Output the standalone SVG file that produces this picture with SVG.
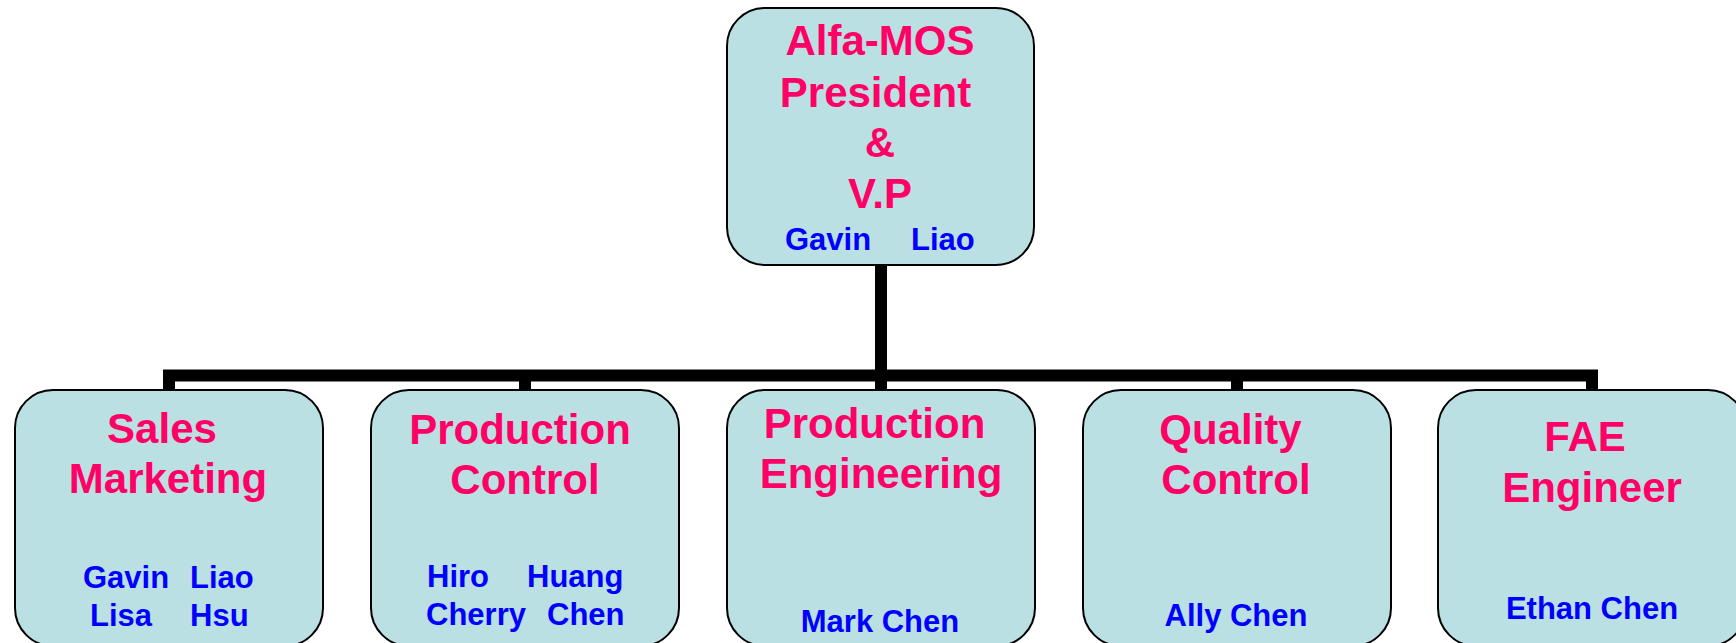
<svg xmlns="http://www.w3.org/2000/svg" width="1736" height="643" viewBox="0 0 1736 643">
<style>
.box{fill:#BBE0E3;stroke:#000;stroke-width:2}
.t{font-family:"Liberation Sans",Arial,sans-serif;font-weight:bold;font-size:42px;fill:#FF0066;text-anchor:middle}
.n{font-family:"Liberation Sans",Arial,sans-serif;font-weight:bold;font-size:31px;fill:#0000FF}
.c{text-anchor:middle}
.conn{fill:none;stroke:#000;stroke-width:12;stroke-linejoin:miter}
</style>
<rect width="1736" height="643" fill="#fff"/>
<g id="connectors">
<path class="conn" d="M169,390 V375.5 H1592 V390"/>
<path class="conn" d="M525,375.5 V390"/>
<path class="conn" d="M881,264 V390"/>
<path class="conn" d="M1237,375.5 V390"/>
</g>
<g id="president">
<rect class="box" x="727" y="8" width="307" height="257" rx="38"/>
<text class="t" x="880" y="55">Alfa-MOS</text>
<text class="t" x="875.5" y="107">President</text>
<text class="t" x="880" y="157">&amp;</text>
<text class="t" x="880" y="208">V.P</text>
<text class="n" y="250"><tspan x="785">Gavin</tspan><tspan x="911">Liao</tspan></text>
</g>
<g id="sales">
<rect class="box" x="15" y="390" width="308" height="256" rx="38"/>
<text class="t" x="162" y="443">Sales</text>
<text class="t" x="168" y="493">Marketing</text>
<text class="n" y="588"><tspan x="83">Gavin</tspan><tspan x="190">Liao</tspan></text>
<text class="n" y="626"><tspan x="90">Lisa</tspan><tspan x="190">Hsu</tspan></text>
</g>
<g id="production-control">
<rect class="box" x="371" y="390" width="308" height="256" rx="38"/>
<text class="t" x="520" y="444">Production</text>
<text class="t" x="525" y="494">Control</text>
<text class="n" y="587"><tspan x="427">Hiro</tspan><tspan x="527">Huang</tspan></text>
<text class="n" y="625"><tspan x="426">Cherry</tspan><tspan x="547">Chen</tspan></text>
</g>
<g id="production-engineering">
<rect class="box" x="727" y="390" width="308" height="256" rx="38"/>
<text class="t" x="874.5" y="438">Production</text>
<text class="t" x="881" y="488">Engineering</text>
<text class="n c" x="880" y="632">Mark Chen</text>
</g>
<g id="quality-control">
<rect class="box" x="1083" y="390" width="308" height="256" rx="38"/>
<text class="t" x="1230.5" y="444">Quality</text>
<text class="t" x="1236" y="494">Control</text>
<text class="n c" x="1236" y="626">Ally Chen</text>
</g>
<g id="fae">
<rect class="box" x="1438" y="390" width="308" height="256" rx="38"/>
<text class="t" x="1585" y="451">FAE</text>
<text class="t" x="1592" y="502">Engineer</text>
<text class="n c" x="1592" y="619">Ethan Chen</text>
</g>
</svg>
